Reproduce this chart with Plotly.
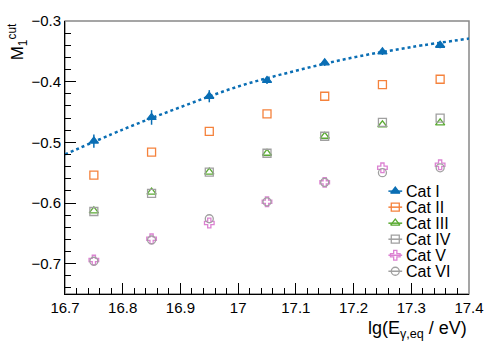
import plotly.graph_objects as go

x = [16.75, 16.85, 16.95, 17.05, 17.15, 17.25, 17.35]
cat1 = [-0.498, -0.459, -0.424, -0.398, -0.369, -0.351, -0.340]
cat1_err = [0.011, 0.012, 0.010, 0.006, 0.005, 0.005, 0.005]
cat2 = [-0.554, -0.516, -0.482, -0.453, -0.424, -0.405, -0.396]
cat3 = [-0.613, -0.582, -0.549, -0.518, -0.490, -0.471, -0.468]
cat4 = [-0.614, -0.584, -0.549, -0.518, -0.490, -0.467, -0.460]
cat5 = [-0.694, -0.659, -0.633, -0.598, -0.566, -0.542, -0.537]
cat6 = [-0.696, -0.661, -0.626, -0.598, -0.566, -0.550, -0.542]

fit_x = [16.7, 16.8, 16.9, 17.0, 17.1, 17.2, 17.3, 17.4]
fit_y = [-0.520, -0.479, -0.442, -0.408, -0.382, -0.360, -0.343, -0.329]

names = ["Cat I", "Cat II", "Cat III", "Cat IV", "Cat V", "Cat VI"]
colors = ["#0a6eb4", "#f5823c", "#5aaa32", "#a0a0a0", "#dc82d2", "#a0a0a0"]
symbols = ["triangle-up", "square-open", "triangle-up-open", "square-open", "cross-open", "circle-open"]
series = [cat1, cat2, cat3, cat4, cat5, cat6]

W, H = 496, 351
ML, MR, MT, MB = 65, 20, 18, 57
PW, PH = W - ML - MR, H - MT - MB

def px_x(p):
    return (p - ML) / PW

def px_y(p):
    return (H - MB - p) / PH

fig = go.Figure()
fig.add_trace(go.Scatter(x=fit_x, y=fit_y, mode="lines",
                         line=dict(color=colors[0], width=2.5, dash="dot", shape="spline"),
                         showlegend=False, hoverinfo="skip"))
for i, (nm, c, s, ys) in enumerate(zip(names, colors, symbols, series)):
    kw = {}
    if i == 0:
        kw["error_y"] = dict(type="data", array=cat1_err, color=c, thickness=1.5, width=0)
    fig.add_trace(go.Scatter(x=x, y=ys, mode="markers", name=nm, showlegend=False,
                             marker=dict(symbol=s, size=8, color=c, line=dict(color=c, width=1.3)), **kw))

# custom legend (ROOT style) drawn on a hidden overlay axis
for i, (nm, c, s) in enumerate(zip(names, colors, symbols)):
    yy = px_y(190 + 16.2 * i)
    fig.add_trace(go.Scatter(x=[px_x(394), px_x(408)], y=[yy, yy], xaxis="x2", yaxis="y2", mode="lines",
                             line=dict(color=c, width=1.5), showlegend=False, hoverinfo="skip"))
    fig.add_trace(go.Scatter(x=[px_x(401)], y=[yy], xaxis="x2", yaxis="y2", mode="markers",
                             marker=dict(symbol=s, size=8, color=c, line=dict(color=c, width=1.3)),
                             showlegend=False, hoverinfo="skip"))
    fig.add_annotation(text=nm, xref="paper", yref="paper", x=px_x(410), y=yy, xanchor="left",
                       yanchor="middle", showarrow=False, font=dict(size=16))

fig.update_layout(
    width=W, height=H,
    margin=dict(l=ML, r=MR, t=MT, b=MB),
    paper_bgcolor="white", plot_bgcolor="white",
    font=dict(family="Liberation Sans, Arial, sans-serif", size=15, color="black"),
    showlegend=False,
    xaxis2=dict(overlaying="x", range=[0, 1], visible=False),
    yaxis2=dict(overlaying="y", range=[0, 1], visible=False),
)
fig.layout.xaxis.update(range=[16.7, 17.4], tickvals=[16.7, 16.8, 16.9, 17.0, 17.1, 17.2, 17.3, 17.4],
                        ticktext=["16.7", "16.8", "16.9", "17", "17.1", "17.2", "17.3", "17.4"],
                        ticks="inside", ticklen=11, tickwidth=1, tickcolor="black",
                        minor=dict(dtick=0.02, tick0=16.7, ticks="inside", ticklen=6, tickcolor="black"),
                        showgrid=False, zeroline=False, showline=True, linecolor="black", linewidth=1)
fig.layout.yaxis.update(range=[-0.75, -0.3], tickvals=[-0.7, -0.6, -0.5, -0.4, -0.3],
                        ticktext=["\u22120.7", "\u22120.6", "\u22120.5", "\u22120.4", "\u22120.3"],
                        ticks="inside", ticklen=11, tickwidth=1, tickcolor="black",
                        minor=dict(dtick=0.02, tick0=-0.3, ticks="inside", ticklen=6, tickcolor="black"),
                        showgrid=False, zeroline=False, showline=True, linecolor="black", linewidth=1)
fig.add_shape(type="rect", xref="paper", yref="paper", x0=0, x1=1, y0=0, y1=1,
              line=dict(color="#888888", width=1.5), layer="below")
fig.add_annotation(text="M<sub>1</sub><sup>cut</sup>", xref="paper", yref="paper", x=px_x(17), y=1.0,
                   xanchor="center", yanchor="top", textangle=-90, showarrow=False, font=dict(size=17))
fig.add_annotation(text="lg(E<sub>\u03b3,eq</sub> / eV)", xref="paper", yref="paper", x=1.0, y=px_y(316),
                   xanchor="right", yanchor="top", showarrow=False, font=dict(size=18))
fig.write_html("out.html", config={"displayModeBar": False},
               post_script="document.documentElement.style.overflow='hidden';"
                           "document.body.style.overflow='hidden';document.body.style.margin='0';")
